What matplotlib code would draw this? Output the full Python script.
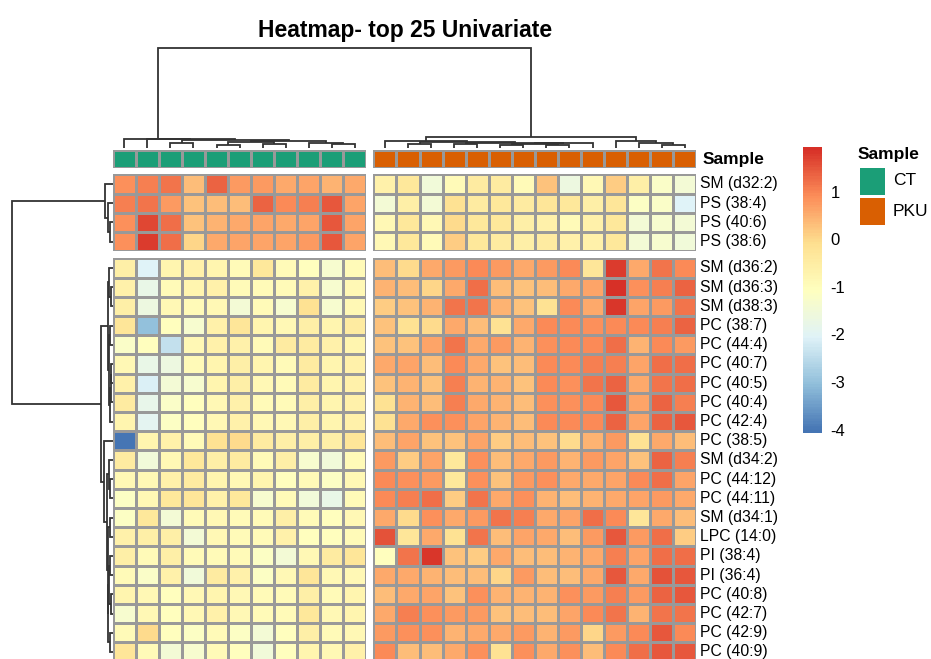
import matplotlib
matplotlib.use("Agg")
import matplotlib.pyplot as plt
import numpy as np
from matplotlib.colors import LinearSegmentedColormap, ListedColormap

plt.rcParams["font.family"] = ["Liberation Sans", "DejaVu Sans"]

# ---- data ---------------------------------------------------------------
row_labels = ["SM (d32:2)", "PS (38:4)", "PS (40:6)", "PS (38:6)",
              "SM (d36:2)", "SM (d36:3)", "SM (d38:3)", "PC (38:7)", "PC (44:4)",
              "PC (40:7)", "PC (40:5)", "PC (40:4)", "PC (42:4)", "PC (38:5)",
              "SM (d34:2)", "PC (44:12)", "PC (44:11)", "SM (d34:1)", "LPC (14:0)",
              "PI (38:4)", "PI (36:4)", "PC (40:8)", "PC (42:7)", "PC (42:9)",
              "PC (40:9)"]
groups = ["CT", "PKU"]
group_sizes = [11, 14]
group_colors = ["#1B9E77", "#D95F02"]

ct_values = [
    [0.9, 1.1, 1.2, 0.4, 1.4, 0.8, 0.8, 0.6, 0.7, 0.5, 0.6],
    [1.1, 1.2, 0.8, 0.3, 0.4, 0.4, 1.4, 1.0, 1.1, 1.5, 0.7],
    [0.9, 1.7, 1.3, 0.3, 0.5, 0.6, 0.7, 0.6, 0.7, 1.5, 0.7],
    [0.9, 1.8, 1.3, 0.1, 0.6, 0.7, 0.7, 0.7, 0.8, 1.5, 0.7],
    [-0.5, -2.0, -0.7, -0.6, -0.7, -0.9, -0.3, -0.9, -1.0, -1.3, -0.9],
    [-0.6, -1.7, -0.9, -0.7, -0.6, -0.9, -0.9, -0.9, -0.6, -1.3, -0.8],
    [-0.5, -1.6, -0.8, -0.9, -0.8, -1.4, -0.9, -1.3, -0.1, -1.3, -0.8],
    [-0.2, -3.0, -1.0, -1.3, -0.6, -0.2, -0.7, -0.8, -0.5, -0.7, -0.4],
    [-1.2, -1.0, -2.4, -0.8, -0.6, -0.6, -0.9, -0.4, -0.4, -0.6, -0.7],
    [-0.8, -1.7, -1.6, -0.9, -0.7, -0.5, -0.7, -0.9, -0.4, -0.7, -0.6],
    [-0.6, -2.1, -1.4, -1.3, -0.7, -0.5, -0.8, -0.9, -0.4, -0.7, -0.6],
    [-0.4, -1.8, -1.2, -1.0, -0.8, -0.6, -0.9, -0.9, -0.5, -0.7, -0.6],
    [-0.7, -1.9, -1.1, -1.0, -0.8, -0.6, -0.8, -0.8, -0.5, -0.7, -0.6],
    [-4.04, -0.7, -0.6, -0.9, -0.1, 0.0, -0.4, -0.5, -0.5, -0.5, -0.2],
    [-0.4, -1.5, -0.8, -0.3, -0.5, -0.4, -0.9, -0.5, -1.3, -1.5, -0.9],
    [-0.8, -0.8, -0.6, -0.4, -0.7, -0.8, -0.7, -1.0, -0.9, -1.1, -0.8],
    [-1.1, -0.8, -0.3, -0.2, -0.6, -0.3, -1.3, -0.9, -1.5, -1.7, -0.9],
    [-1.1, -0.3, -1.4, -0.9, -0.8, -0.9, -0.9, -0.5, -0.9, -1.0, -0.8],
    [-0.6, -0.5, -0.5, -1.4, -0.8, -0.9, -0.9, -0.6, -1.0, -1.0, -0.9],
    [-0.5, -0.9, -0.5, -0.9, -0.9, -0.9, -1.1, -1.4, -0.8, -0.4, -0.2],
    [-0.9, -1.2, -0.6, -1.5, -0.4, -0.6, -1.1, -0.8, -0.2, -0.8, -0.8],
    [-0.7, -0.8, -1.0, -0.8, -0.7, -0.8, -0.9, -0.9, -0.5, -0.9, -0.7],
    [-1.3, -0.8, -1.0, -0.8, -0.6, -0.8, -0.9, -0.9, -0.3, -0.8, -0.7],
    [-0.9, 0.0, -1.0, -1.1, -0.9, -1.1, -1.4, -1.0, -0.5, -0.9, -0.8],
    [-0.2, -0.9, -1.4, -1.3, -0.9, -1.0, -1.5, -1.0, -0.7, -0.8, -0.6],
]

pku_values = [
    [-0.6, -0.3, -1.5, -0.9, -0.4, -0.4, -0.9, 0.3, -1.6, -0.8, 0.2, -0.5, -1.2, -1.4],
    [-1.4, -0.5, -1.4, -0.1, -0.4, -0.3, -0.4, -0.2, -0.3, -0.5, -0.2, -1.1, -1.2, -2.0],
    [-0.8, -0.3, -0.8, 0.0, -0.3, -0.3, -0.5, -0.6, -0.9, -0.6, -0.3, -1.4, -1.3, -1.4],
    [-0.8, -0.3, -0.9, 0.2, -0.3, -0.4, -0.5, -0.4, -0.6, -0.6, -0.3, -1.4, -1.3, -1.5],
    [0.4, 0.0, 0.6, 0.8, 1.0, 0.8, 0.6, 0.8, 1.0, -0.2, 1.8, 0.6, 1.2, 1.0],
    [0.5, 0.4, 0.1, 0.6, 1.3, 0.4, 0.3, 0.4, 0.6, 0.7, 1.97, 0.9, 1.1, 1.4],
    [0.2, 0.3, 0.5, 1.2, 1.2, 0.5, 0.3, -0.1, 1.0, 0.6, 1.9, 0.7, 0.8, 1.2],
    [0.3, -0.1, 0.0, 0.6, 0.4, -0.1, 0.6, 1.0, 1.0, 0.9, 1.0, 1.0, 1.1, 1.4],
    [0.3, 0.3, 0.7, 1.2, 0.6, 0.8, 0.5, 0.9, 1.0, 1.0, 1.3, 0.5, 1.0, 0.8],
    [0.6, 0.7, 0.4, 1.0, 0.6, 0.3, 0.4, 1.0, 1.0, 1.1, 1.1, 0.7, 1.3, 1.3],
    [0.3, 0.5, 0.3, 1.1, 0.5, 0.5, 0.3, 1.0, 0.9, 1.2, 1.4, 0.6, 1.2, 1.3],
    [-0.1, 0.5, 0.4, 1.1, 0.6, 0.5, 0.4, 0.9, 0.9, 1.0, 1.5, 0.7, 1.4, 1.1],
    [-0.1, 0.6, 0.9, 0.9, 0.7, 0.5, 0.4, 1.0, 1.0, 1.0, 1.4, 0.7, 1.4, 1.5],
    [0.4, 0.7, 0.3, 0.3, 0.7, 0.2, 0.4, 0.3, 0.0, 0.5, 0.8, -0.1, 0.6, 0.4],
    [0.8, 0.2, 0.7, -0.3, 0.9, 0.4, 0.6, 0.8, 0.5, 0.8, 0.7, 0.3, 1.4, 1.1],
    [1.0, 0.9, 0.8, -0.3, 0.9, 0.3, 0.8, 0.9, 0.6, 0.6, 0.7, 1.0, 1.3, 0.7],
    [1.0, 1.1, 1.3, 0.2, 1.2, 0.6, 0.9, 0.5, 0.4, 0.5, 0.6, 0.7, 0.8, 0.6],
    [0.6, 0.0, 0.9, 0.6, 0.8, 1.2, 1.1, 0.6, 0.7, 1.3, 1.0, -0.2, 0.6, 0.4],
    [1.6, -0.2, 0.6, -0.1, 1.2, 0.4, 0.7, 0.6, 0.4, 0.8, 1.5, 0.8, 1.3, 0.2],
    [-1.0, 1.2, 1.9, 0.3, 0.2, 0.6, 0.4, 0.4, 0.5, 0.6, 1.1, 0.7, 1.3, 1.3],
    [0.6, 0.6, 0.5, 0.4, 0.4, 0.1, 0.8, 0.4, 0.4, 0.6, 1.5, 0.6, 1.6, 1.5],
    [0.4, 0.6, 0.7, 0.3, 0.9, 0.5, 0.5, 0.5, 0.9, 0.8, 1.1, 0.8, 1.4, 1.5],
    [0.6, 1.1, 0.9, 0.8, 0.8, 0.3, 0.4, 0.4, 0.7, 1.0, 1.2, 0.5, 1.2, 1.2],
    [0.8, 0.9, 0.9, 0.5, 0.6, 0.6, 0.8, 0.5, 0.8, 0.1, 0.8, 1.0, 1.5, 1.0],
    [1.0, 0.4, 0.4, 0.6, 0.9, -0.1, 0.9, 0.6, 0.9, 0.4, 1.0, 1.3, 1.5, 1.5],
]

# cluster trees: (left, right, height); leaves are column / row indices
col_tree = (
    (0, (1, ((2, 3, 0.05),
             (((4, 5, 0.033), (6, 7, 0.04), 0.06),
              (8, (9, 10, 0.04), 0.05), 0.067), 0.08), 0.09), 0.095),
    ((11, ((12, 13, 0.04),
           ((14, 15, 0.04),
            (((16, 17, 0.03), (18, 19, 0.035), 0.045), 20, 0.05), 0.055), 0.06), 0.067),
     (21, (22, (23, 24, 0.033), 0.05), 0.067), 0.11),
    1.0)

row_tree = (
    (0, (1, (2, 3, 0.03), 0.05), 0.08),
    (((4, (5, 6, 0.02), 0.035),
      ((7, 8, 0.03), (((9, 10, 0.015), 11, 0.02), 12, 0.025), 0.04), 0.05),
     (13, ((14, (15, 16, 0.03), 0.04),
           ((17, 18, 0.03), (((19, 20, 0.025), (21, 22, 0.02), 0.035),
                             (23, 24, 0.03), 0.045), 0.05), 0.06), 0.09), 0.12),
    1.0)

# ---- layout (pixels) ----------------------------------------------------
W, H = 931, 659
fig = plt.figure(figsize=(W / 100, H / 100), dpi=100)


def px_axes(x0, y0, x1, y1):
    ax = fig.add_axes([x0 / W, 1 - y1 / H, (x1 - x0) / W, (y1 - y0) / H])
    ax.set_axis_off()
    return ax


cell_w, cell_h = 23.07, 19.2
hm_x0, hm_y0 = 112.7, 174.3
col_gap, row_gap = 0.3, 0.38
n_top = 4

ct = np.array(ct_values)
pku = np.array(pku_values)
vmin = min(ct.min(), pku.min())
vmax = max(ct.max(), pku.max())
cmap = LinearSegmentedColormap.from_list(
    "rdylbu_r", ["#4575B4", "#91BFDB", "#E0F3F8", "#FFFFBF",
                 "#FEE090", "#FC8D59", "#D73027"], N=100)
border = "#999999"

col_x0 = [hm_x0, hm_x0 + (group_sizes[0] + col_gap) * cell_w]
row_y0 = [hm_y0, hm_y0 + (n_top + row_gap) * cell_h]
row_slices = [slice(0, n_top), slice(n_top, len(row_labels))]

for gi, block in enumerate([ct, pku]):
    for ri, rs in enumerate(row_slices):
        vals = block[rs]
        nr, nc = vals.shape
        ax = px_axes(col_x0[gi], row_y0[ri],
                     col_x0[gi] + nc * cell_w, row_y0[ri] + nr * cell_h)
        ax.pcolormesh(vals, cmap=cmap, vmin=vmin, vmax=vmax,
                      edgecolors=border, linewidth=0.8)
        ax.set_xlim(0, nc)
        ax.set_ylim(nr, 0)

# sample annotation bar
for gi, n in enumerate(group_sizes):
    ax = px_axes(col_x0[gi], 150, col_x0[gi] + n * cell_w, 168.3)
    ax.pcolormesh(np.zeros((1, n)), cmap=ListedColormap([group_colors[gi]]),
                  edgecolors=border, linewidth=0.8)
    ax.set_xlim(0, n)
    ax.set_ylim(1, 0)

fig.text(703 / W, 1 - 159.5 / H, "Sample", fontsize=12.5, fontweight="bold",
         ha="left", va="center")

# row labels
for i, lab in enumerate(row_labels):
    blk = 0 if i < n_top else 1
    y = row_y0[blk] + (i - (0 if blk == 0 else n_top) + 0.5) * cell_h
    fig.text(700 / W, 1 - y / H, lab, fontsize=11.3, ha="left", va="center")


# ---- dendrograms --------------------------------------------------------
def draw_tree(ax, node, leaf_pos, vertical):
    if isinstance(node, int):
        return leaf_pos[node], 0.0
    left, right, h = node
    lp, lh = draw_tree(ax, left, leaf_pos, vertical)
    rp, rh = draw_tree(ax, right, leaf_pos, vertical)
    pos = [lp, lp, rp, rp]
    hts = [lh, h, h, rh]
    if vertical:
        ax.plot(pos, hts, color="#333333", lw=1.3, clip_on=False,
                solid_joinstyle="miter", solid_capstyle="butt")
    else:
        ax.plot(hts, pos, color="#333333", lw=1.3, clip_on=False,
                solid_joinstyle="miter", solid_capstyle="butt")
    return (lp + rp) / 2, h


n_cols = sum(group_sizes)
col_pos = [i + 0.5 if i < group_sizes[0] else i + col_gap + 0.5
           for i in range(n_cols)]
ax_ct = px_axes(hm_x0, 48, hm_x0 + (n_cols + col_gap) * cell_w, 148)
draw_tree(ax_ct, col_tree, col_pos, vertical=True)
ax_ct.set_xlim(0, n_cols + col_gap)
ax_ct.set_ylim(0, 1)

row_pos = [i + 0.5 if i < n_top else i + row_gap + 0.5
           for i in range(len(row_labels))]
span = (H - hm_y0) / cell_h
ax_rt = px_axes(12, hm_y0, hm_x0, H)
draw_tree(ax_rt, row_tree, row_pos, vertical=False)
ax_rt.set_xlim(1, 0)
ax_rt.set_ylim(span, 0)

# ---- colour key ---------------------------------------------------------
ax_cb = px_axes(803, 147, 822, 433)
grad = np.linspace(vmax, vmin, 256).reshape(-1, 1)
ax_cb.imshow(grad, cmap=cmap, vmin=vmin, vmax=vmax, aspect="auto",
             extent=[0, 1, vmin, vmax])
ax_cb.set_ylim(vmin, vmax)
for t in [1, 0, -1, -2, -3, -4]:
    ax_cb.text(1.45, t, str(t), transform=ax_cb.get_yaxis_transform(),
               fontsize=12, ha="left", va="center")

# ---- sample legend ------------------------------------------------------
fig.text(858 / W, 1 - 155 / H, "Sample", fontsize=12.5, fontweight="bold",
         ha="left", va="center")
ax_lg = px_axes(858, 166, 886, 226)
ax_lg.pcolormesh(np.array([[0], [1]]), cmap=ListedColormap(group_colors),
                 edgecolors="white", linewidth=1.0)
ax_lg.set_ylim(2, 0)
for gi, g in enumerate(groups):
    fig.text(893 / W, 1 - (181 + gi * 30) / H, g, fontsize=12.5,
             ha="left", va="center")

fig.text(405 / W, 1 - 30 / H, "Heatmap- top 25 Univariate", fontsize=16.5,
         fontweight="bold", ha="center", va="center")

fig.savefig("out.png", dpi=100)
